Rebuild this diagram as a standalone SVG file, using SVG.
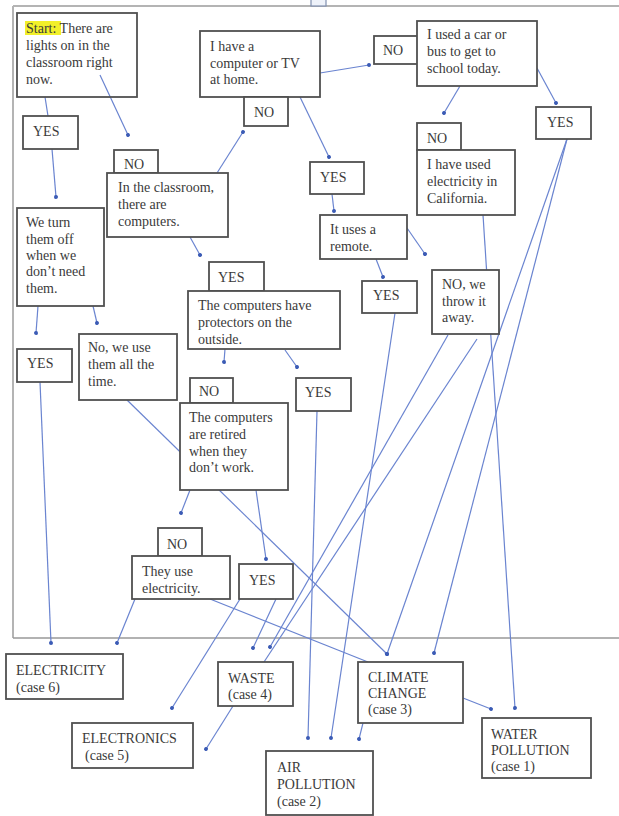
<svg xmlns="http://www.w3.org/2000/svg" width="619" height="816" viewBox="0 0 619 816">
<defs>
<marker id="dot" markerUnits="userSpaceOnUse" markerWidth="6" markerHeight="6" refX="3" refY="3" orient="auto">
<circle cx="3" cy="3" r="2" fill="#3b5bb5"/>
</marker>
<style>
.box{fill:#fff;stroke:#505050;stroke-width:1.8}
.t{font-family:"Liberation Serif","Times New Roman",serif;font-size:14px;fill:#3a3a3a}
.c{fill:none;stroke:#6a84d0;stroke-width:1.2}
.m{marker-end:url(#dot)}
.frame{stroke:#b4b4b4;stroke-width:2;fill:none}
</style>
</defs>
<rect width="619" height="816" fill="#fff"/>
<g id="frame">
<line class="frame" x1="13" y1="6" x2="619" y2="6"/>
<line class="frame" x1="13" y1="6" x2="13" y2="638"/>
<line x1="13" y1="638" x2="619" y2="638" stroke="#999" stroke-width="1.5"/>
<rect x="311" y="-2" width="15" height="8" fill="#eef2fa" stroke="#8090b0" stroke-width="1.2"/>
</g>
<g id="connectors">
<line class="c" x1="45" y1="97" x2="48" y2="116"/>
<line class="c m" x1="52" y1="149" x2="56" y2="197"/>
<line class="c m" x1="100" y1="75" x2="128" y2="135"/>
<line class="c m" x1="217" y1="173" x2="243" y2="132"/>
<line class="c m" x1="320" y1="73" x2="369" y2="65"/>
<line class="c m" x1="300" y1="97" x2="329" y2="157"/>
<line class="c m" x1="460" y1="86" x2="444" y2="113"/>
<line class="c m" x1="537" y1="68" x2="556" y2="103"/>
<line class="c m" x1="332" y1="194" x2="334" y2="211"/>
<line class="c m" x1="407" y1="228" x2="425" y2="254"/>
<line class="c m" x1="376" y1="259" x2="383" y2="277"/>
<line class="c m" x1="190" y1="237" x2="200" y2="255"/>
<line class="c m" x1="38" y1="306" x2="36" y2="333"/>
<line class="c m" x1="93" y1="306" x2="97" y2="323"/>
<line class="c m" x1="225" y1="349" x2="224" y2="362"/>
<line class="c m" x1="285" y1="350" x2="297" y2="367"/>
<line class="c m" x1="190" y1="490" x2="181" y2="513"/>
<line class="c m" x1="256" y1="490" x2="266" y2="559"/>
<line class="c m" x1="127" y1="400" x2="387" y2="654" stroke="#8c9ac8"/>
<line class="c m" x1="40" y1="382" x2="51" y2="643"/>
<line class="c m" x1="135" y1="599" x2="117" y2="643"/>
<line class="c" x1="210" y1="599" x2="368" y2="662" stroke="#4f6cc0" stroke-width="1.6"/>
<line class="c m" x1="240" y1="599" x2="172" y2="708"/>
<line class="c m" x1="276" y1="599" x2="253" y2="648"/>
<line class="c m" x1="448" y1="335" x2="270" y2="647"/>
<line class="c" x1="477" y1="339" x2="264" y2="662"/>
<line class="c m" x1="317" y1="411" x2="308" y2="738"/>
<line class="c m" x1="395" y1="313" x2="331" y2="738"/>
<line class="c m" x1="363" y1="723" x2="359" y2="739"/>
<line class="c m" x1="567" y1="139" x2="387" y2="654"/>
<line class="c m" x1="567" y1="139" x2="434" y2="653"/>
<line class="c m" x1="483" y1="215" x2="515" y2="708"/>
<line class="c m" x1="463" y1="698" x2="491" y2="709"/>
<line class="c m" x1="233" y1="706" x2="206" y2="749"/>
</g>
<g id="start">
<rect class="box" x="17" y="13" width="120" height="84" style="fill:none"/>
<rect x="25" y="21" width="36" height="14" fill="#f2f02a"/>
<text class="t" x="26" y="33">Start: There are</text>
<text class="t" x="26" y="50">lights on in the</text>
<text class="t" x="26" y="67">classroom right</text>
<text class="t" x="26" y="84">now.</text>
</g>
<g id="computer">
<rect class="box" x="200" y="31" width="120" height="66"/>
<text class="t" x="210" y="51">I have a</text>
<text class="t" x="210" y="68">computer or TV</text>
<text class="t" x="210" y="84">at home.</text>
</g>
<g id="no-computer"><rect class="box" x="244" y="97" width="44" height="29"/><text class="t" x="254" y="117">NO</text></g>
<g id="no-car"><rect class="box" x="374" y="36" width="44" height="28"/><text class="t" x="383" y="55">NO</text></g>
<g id="car">
<rect class="box" x="417" y="21" width="120" height="65"/>
<text class="t" x="427" y="39">I used a car or</text>
<text class="t" x="427" y="56">bus to get to</text>
<text class="t" x="427" y="73">school today.</text>
</g>
<g id="yes-car"><rect class="box" x="536" y="107" width="55" height="32"/><text class="t" x="547" y="127">YES</text></g>
<g id="no-elec"><rect class="box" x="417" y="123" width="44" height="27"/><text class="t" x="427" y="143">NO</text></g>
<g id="california">
<rect class="box" x="417" y="150" width="98" height="65"/>
<text class="t" x="427" y="169">I have used</text>
<text class="t" x="427" y="186">electricity in</text>
<text class="t" x="427" y="203">California.</text>
</g>
<g id="yes-home"><rect class="box" x="310" y="162" width="54" height="32"/><text class="t" x="320" y="182">YES</text></g>
<g id="remote">
<rect class="box" x="320" y="215" width="87" height="44"/>
<text class="t" x="330" y="234">It uses a</text>
<text class="t" x="330" y="251">remote.</text>
</g>
<g id="yes-remote"><rect class="box" x="362" y="281" width="55" height="32"/><text class="t" x="373" y="300">YES</text></g>
<g id="throw">
<rect class="box" x="432" y="270" width="67" height="64"/>
<text class="t" x="442" y="289">NO, we</text>
<text class="t" x="442" y="306">throw it</text>
<text class="t" x="442" y="322">away.</text>
</g>
<g id="yes-lights"><rect class="box" x="23" y="116" width="55" height="33"/><text class="t" x="33" y="136">YES</text></g>
<g id="no-lights"><rect class="box" x="114" y="150" width="44" height="23"/><text class="t" x="124" y="169">NO</text></g>
<g id="classroom">
<rect class="box" x="107" y="173" width="121" height="64"/>
<text class="t" x="118" y="192">In the classroom,</text>
<text class="t" x="118" y="209">there are</text>
<text class="t" x="118" y="226">computers.</text>
</g>
<g id="turnoff">
<rect class="box" x="17" y="208" width="87" height="98"/>
<text class="t" x="26" y="227">We turn</text>
<text class="t" x="26" y="244">them off</text>
<text class="t" x="26" y="260">when we</text>
<text class="t" x="26" y="276">don’t need</text>
<text class="t" x="26" y="293">them.</text>
</g>
<g id="yes-turnoff"><rect class="box" x="17" y="349" width="55" height="33"/><text class="t" x="27" y="368">YES</text></g>
<g id="alltime">
<rect class="box" x="79" y="334" width="98" height="66"/>
<text class="t" x="88" y="352">No, we use</text>
<text class="t" x="88" y="369">them all the</text>
<text class="t" x="88" y="386">time.</text>
</g>
<g id="yes-class"><rect class="box" x="209" y="262" width="55" height="29"/><text class="t" x="218" y="282">YES</text></g>
<g id="protectors">
<rect class="box" x="188" y="291" width="152" height="58"/>
<text class="t" x="198" y="310">The computers have</text>
<text class="t" x="198" y="327">protectors on the</text>
<text class="t" x="198" y="344">outside.</text>
</g>
<g id="no-prot"><rect class="box" x="190" y="378" width="43" height="25"/><text class="t" x="199" y="396">NO</text></g>
<g id="yes-prot"><rect class="box" x="296" y="378" width="55" height="33"/><text class="t" x="305" y="397">YES</text></g>
<g id="retired">
<rect class="box" x="180" y="403" width="108" height="87"/>
<text class="t" x="189" y="422">The computers</text>
<text class="t" x="189" y="439">are retired</text>
<text class="t" x="189" y="456">when they</text>
<text class="t" x="189" y="472">don’t work.</text>
</g>
<g id="no-ret"><rect class="box" x="158" y="528" width="44" height="28"/><text class="t" x="167" y="549">NO</text></g>
<g id="useelec">
<rect class="box" x="132" y="556" width="98" height="43"/>
<text class="t" x="142" y="576">They use</text>
<text class="t" x="142" y="593">electricity.</text>
</g>
<g id="yes-ret"><rect class="box" x="239" y="564" width="54" height="35"/><text class="t" x="249" y="585">YES</text></g>
<g id="electricity">
<rect class="box" x="6" y="654" width="117" height="45"/>
<text class="t" x="16" y="675">ELECTRICITY</text>
<text class="t" x="16" y="692">(case 6)</text>
</g>
<g id="waste">
<rect class="box" x="218" y="662" width="75" height="44"/>
<text class="t" x="228" y="683">WASTE</text>
<text class="t" x="228" y="699">(case 4)</text>
</g>
<g id="electronics">
<rect class="box" x="72" y="723" width="121" height="45"/>
<text class="t" x="82" y="743">ELECTRONICS</text>
<text class="t" x="85" y="760">(case 5)</text>
</g>
<g id="air">
<rect class="box" x="266" y="751" width="107" height="64"/>
<text class="t" x="277" y="772">AIR</text>
<text class="t" x="277" y="789">POLLUTION</text>
<text class="t" x="277" y="806">(case 2)</text>
</g>
<g id="climate">
<rect class="box" x="358" y="662" width="105" height="61"/>
<text class="t" x="368" y="682">CLIMATE</text>
<text class="t" x="368" y="698">CHANGE</text>
<text class="t" x="368" y="714">(case 3)</text>
</g>
<g id="water">
<rect class="box" x="482" y="718" width="109" height="60"/>
<text class="t" x="491" y="739">WATER</text>
<text class="t" x="491" y="755">POLLUTION</text>
<text class="t" x="491" y="771">(case 1)</text>
</g>
</svg>
